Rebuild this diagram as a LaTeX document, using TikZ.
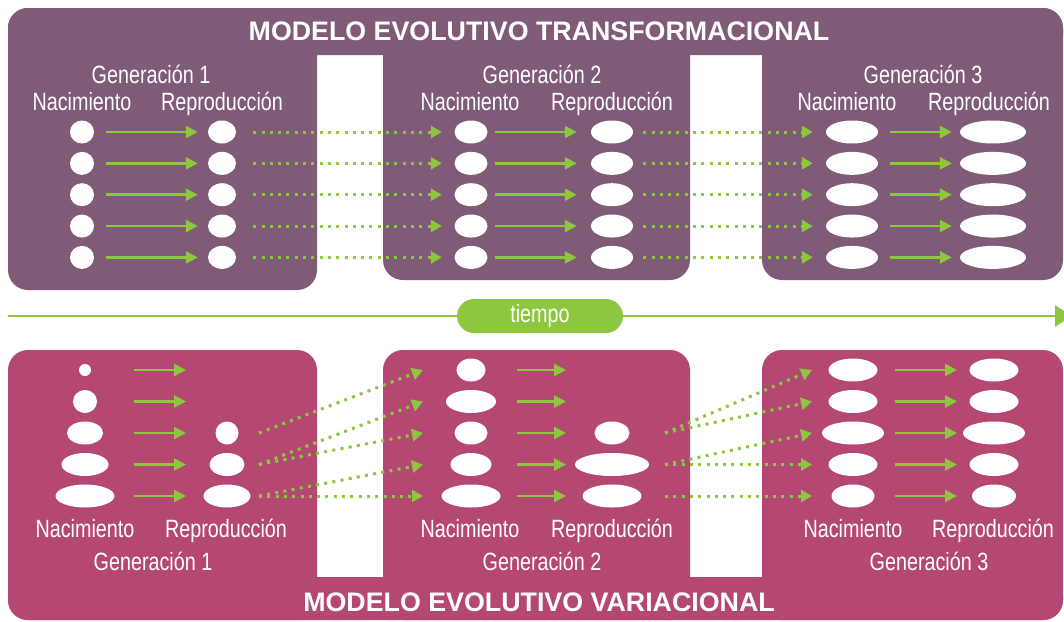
\documentclass[tikz,border=0pt]{standalone}
\usepackage{fontspec}
\setmainfont{Liberation Sans}
\newfontfamily\estrecha[FakeStretch=0.79]{Liberation Sans}
\usepackage{tikz}
\usetikzlibrary{arrows.meta,shapes.geometric,calc}
\definecolor{moradoT}{HTML}{7F5B78}
\definecolor{rosaV}{HTML}{B54873}
\definecolor{verde}{HTML}{8DC63F}
\tikzset{
  blob/.style={ellipse,fill=white,inner sep=0pt,minimum height=23},
  lbl/.style={text=white,font=\estrecha\fontsize{25}{28}\selectfont,anchor=base,inner sep=0pt},
  titulo/.style={text=white,font=\bfseries\fontsize{26.8}{30}\selectfont,inner sep=0pt},
  flecha/.style={verde,line width=2.6pt,-{Triangle[length=12pt,width=12pt]}},
  punteada/.style={verde,line width=3pt,dash pattern=on 3pt off 5.3pt,-{Triangle[length=11pt,width=12pt]}},
}

\begin{document}
\begin{tikzpicture}[x=1pt,y=-1pt]
\useasboundingbox (0,0) rectangle (1064,621);
\fill[moradoT,rounded corners=20pt] (8,8) rectangle (1063,55);
\fill[moradoT,rounded corners=20pt] (8,8) rectangle (317,290);
\fill[moradoT,rounded corners=20pt] (383,8) rectangle (690,280);
\fill[moradoT,rounded corners=20pt] (762,8) rectangle (1063,280);
\fill[rosaV,rounded corners=20pt] (8,577) rectangle (1063,620);
\fill[rosaV,rounded corners=20pt] (8,350) rectangle (317,620);
\fill[rosaV,rounded corners=20pt] (383,350) rectangle (690,620);
\fill[rosaV,rounded corners=20pt] (762,350) rectangle (1063,620);

\node[titulo] (tituloT) at (539,31) {MODELO EVOLUTIVO TRANSFORMACIONAL};
\node[titulo] (tituloV) at (539,602) {MODELO EVOLUTIVO VARIACIONAL};

\coordinate (t0) at (8,316);
\coordinate (t1) at (1072,316);
\draw[verde,line width=2.7pt,-{Triangle[length=17pt,width=21pt]}] (t0) -- (t1);
\node[fill=verde,rounded corners=17pt,minimum width=166,minimum height=34,inner sep=0pt,
  text=white,font=\estrecha\fontsize{25}{28}\selectfont] (tiempo) at (540,316) {tiempo};

\node[lbl] (tg1) at (151,83) {Generación 1};
\node[lbl] (tg2) at (542,83) {Generación 2};
\node[lbl] (tg3) at (923,83) {Generación 3};
\node[lbl] (tn1) at (82,110) {Nacimiento};
\node[lbl] (tr1) at (222,110) {Reproducción};
\node[lbl] (tn2) at (470,110) {Nacimiento};
\node[lbl] (tr2) at (612,110) {Reproducción};
\node[lbl] (tn3) at (847,110) {Nacimiento};
\node[lbl] (tr3) at (989,110) {Reproducción};

\foreach \i/\y in {1/132,2/163.35,3/194.7,4/226.05,5/257.4}{
  \node[blob,minimum width=24] (t1n\i) at (82,\y) {};
  \node[blob,minimum width=28] (t1r\i) at (222,\y) {};
  \node[blob,minimum width=33] (t2n\i) at (471,\y) {};
  \node[blob,minimum width=42] (t2r\i) at (612,\y) {};
  \node[blob,minimum width=52] (t3n\i) at (852,\y) {};
  \node[blob,minimum width=66] (t3r\i) at (993,\y) {};
  \draw[flecha,shorten <=12pt,shorten >=10pt] (t1n\i) -- (t1r\i);
  \draw[flecha,shorten <=7.5pt,shorten >=14pt] (t2n\i) -- (t2r\i);
  \draw[flecha,shorten <=12pt,shorten >=8pt] (t3n\i) -- (t3r\i);
  \draw[punteada,shorten <=17pt,shorten >=12.5pt] (t1r\i) -- (t2n\i);
  \draw[punteada,shorten <=10pt,shorten >=13pt] (t2r\i) -- (t3n\i);
}

\foreach \i/\y/\ha/\wa/\wb/\wc/\wd in {1/370/12/12/29/49/49,2/401.5/23/24/50/49/49,
    3/433/23/36/33/62/62,4/464.5/23/47/41/49/49,5/496/23/59/59/43/44}{
  \node[blob,minimum width=\wa,minimum height=\ha] (b1n\i) at (85,\y) {};
  \node[blob,minimum width=\wb] (b2n\i) at (471,\y) {};
  \node[blob,minimum width=\wc] (b3n\i) at (853,\y) {};
  \node[blob,minimum width=\wd] (b3r\i) at (994,\y) {};
  \coordinate (b1a\i) at (134,\y);
  \coordinate (b1b\i) at (186,\y);
  \coordinate (b2a\i) at (517,\y);
  \coordinate (b2b\i) at (566,\y);
  \coordinate (b3a\i) at (895,\y);
  \coordinate (b3b\i) at (957,\y);
  \coordinate (b1o\i) at (259,\y);
  \coordinate (b2i\i) at (423,\y);
  \coordinate (b2o\i) at (665,\y);
  \coordinate (b3i\i) at (812,\y);
  \draw[flecha] (b1a\i) -- (b1b\i);
  \draw[flecha] (b2a\i) -- (b2b\i);
  \draw[flecha] (b3a\i) -- (b3b\i);
}
\foreach \i/\y/\wa/\wb in {3/433/23/35,4/464.5/35/74,5/496/47/59}{
  \node[blob,minimum width=\wa] (b1r\i) at (227,\y) {};
  \node[blob,minimum width=\wb] (b2r\i) at (612,\y) {};
}
\foreach \a/\b in {3/1,4/2,4/3,5/4,5/5}
  \draw[punteada] (b1o\a) -- (b2i\b);
\foreach \a/\b in {3/1,3/2,4/3,4/4,5/5}
  \draw[punteada] (b2o\a) -- (b3i\b);

\node[lbl] (bn1) at (85,537) {Nacimiento};
\node[lbl] (br1) at (226,537) {Reproducción};
\node[lbl] (bn2) at (470,537) {Nacimiento};
\node[lbl] (br2) at (612,537) {Reproducción};
\node[lbl] (bn3) at (853,537) {Nacimiento};
\node[lbl] (br3) at (993,537) {Reproducción};
\node[lbl] (bg1) at (153,570) {Generación 1};
\node[lbl] (bg2) at (542,570) {Generación 2};
\node[lbl] (bg3) at (929,570) {Generación 3};
\end{tikzpicture}
\end{document}
